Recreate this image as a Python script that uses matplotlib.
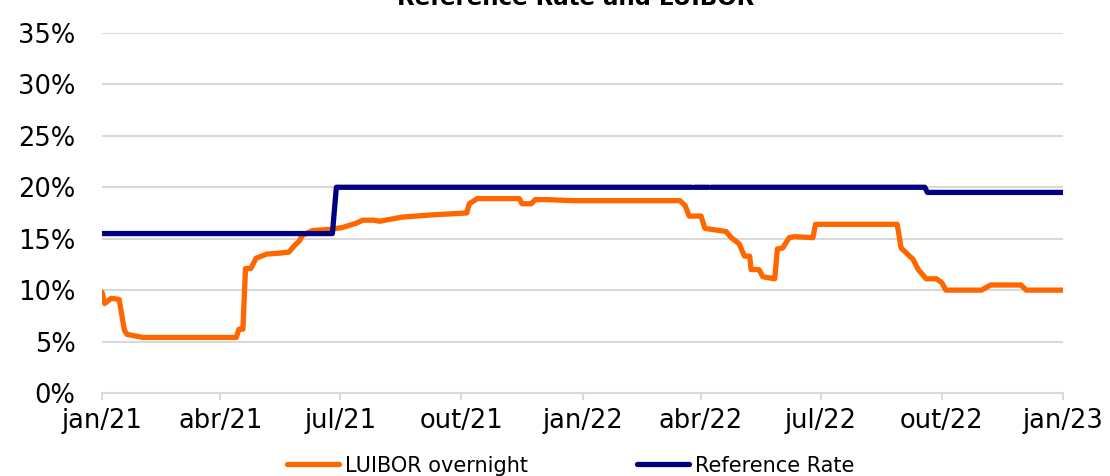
import numpy as np
import matplotlib
matplotlib.use("Agg")
import matplotlib.pyplot as plt
import matplotlib.dates as mdates
from matplotlib.ticker import FuncFormatter

# LUIBOR overnight (%)
luibor_dates = ["2021-01-01", "2021-01-03", "2021-01-08", "2021-01-14", "2021-01-18",
                "2021-01-20", "2021-02-01", "2021-04-13", "2021-04-15", "2021-04-18",
                "2021-04-20", "2021-04-24", "2021-04-28", "2021-05-06", "2021-05-16",
                "2021-05-23", "2021-05-27", "2021-05-31", "2021-06-02", "2021-06-10",
                "2021-06-23", "2021-07-03", "2021-07-13", "2021-07-18", "2021-07-26",
                "2021-07-31", "2021-08-17", "2021-09-07", "2021-10-05", "2021-10-07",
                "2021-10-13", "2021-11-14", "2021-11-16", "2021-11-23", "2021-11-26",
                "2021-12-05", "2021-12-24", "2022-03-16", "2022-03-20", "2022-03-23",
                "2022-04-01", "2022-04-04", "2022-04-20", "2022-04-24", "2022-04-30",
                "2022-05-04", "2022-05-08", "2022-05-09", "2022-05-15", "2022-05-18",
                "2022-05-27", "2022-05-29", "2022-06-02", "2022-06-07", "2022-06-11",
                "2022-06-25", "2022-06-27", "2022-08-28", "2022-08-31", "2022-09-04",
                "2022-09-09", "2022-09-13", "2022-09-19", "2022-09-27", "2022-10-01",
                "2022-10-04", "2022-10-31", "2022-11-07", "2022-11-30", "2022-12-04",
                "2023-01-01"]
luibor = [9.8, 8.7, 9.2, 9.1, 6.1,
          5.7, 5.4, 5.4, 6.2, 6.2,
          12.1, 12.1, 13.1, 13.5, 13.6,
          13.7, 14.3, 14.8, 15.3, 15.8,
          15.9, 16.1, 16.5, 16.8, 16.8,
          16.7, 17.1, 17.3, 17.5, 18.4,
          18.9, 18.9, 18.4, 18.4, 18.8,
          18.8, 18.7, 18.7, 18.2, 17.2,
          17.2, 16.0, 15.7, 15.1, 14.5,
          13.3, 13.3, 12.0, 12.0, 11.3,
          11.1, 14.0, 14.1, 15.1, 15.2,
          15.1, 16.4, 16.4, 14.1, 13.6,
          13.0, 12.0, 11.1, 11.1, 10.7,
          10.0, 10.0, 10.5, 10.5, 10.0,
          10.0]

# Reference rate (%), NaN where the series has short breaks
ref_dates = ["2021-01-01", "2021-06-25", "2021-06-28", "2022-03-25", "2022-03-26",
             "2022-03-27", "2022-04-07", "2022-04-08", "2022-04-09", "2022-09-18",
             "2022-09-20", "2023-01-01"]
ref_rate = [15.5, 15.5, 20.0, 20.0, np.nan,
            20.0, 20.0, np.nan, 20.0, 20.0,
            19.5, 19.5]

x_ticks = ["2021-01-01", "2021-04-01", "2021-07-01", "2021-10-01", "2022-01-01",
           "2022-04-01", "2022-07-01", "2022-10-01", "2023-01-01"]
x_labels = ["jan/21", "abr/21", "jul/21", "out/21", "jan/22",
            "abr/22", "jul/22", "out/22", "jan/23"]

fig = plt.figure(figsize=(11.1, 4.76), dpi=100)
ax = fig.add_axes([0.0919, 0.1744, 0.8658, 0.7563])

grid_col = "#d9d9d9"
ax.plot(np.array(luibor_dates, dtype="datetime64[D]"), luibor, color="#ff6600",
        lw=3.8, solid_joinstyle="round", solid_capstyle="round", label="LUIBOR overnight")
ax.plot(np.array(ref_dates, dtype="datetime64[D]"), ref_rate, color="#000080",
        lw=3.8, solid_joinstyle="round", solid_capstyle="round", label="Reference Rate")

ax.set_xlim(np.datetime64("2021-01-01"), np.datetime64("2023-01-01"))
ax.set_ylim(0, 35)
ax.set_yticks(range(0, 36, 5))
ax.yaxis.set_major_formatter(FuncFormatter(lambda v, p: f"{v:.0f}%"))
ax.set_xticks(np.array(x_ticks, dtype="datetime64[D]"))
ax.set_xticklabels(x_labels)

ax.grid(axis="y", color=grid_col, lw=1.5)
ax.set_axisbelow(True)
for s in ["top", "right", "left"]:
    ax.spines[s].set_visible(False)
ax.spines["bottom"].set_color(grid_col)
ax.spines["bottom"].set_linewidth(1.5)
ax.tick_params(axis="y", length=0, pad=19, labelsize=18.5)
ax.tick_params(axis="x", length=5, width=1.5, color=grid_col, pad=6, labelsize=18.5)

fig.text(0.519, 0.9895, "Reference Rate and LUIBOR", ha="center", va="baseline",
         fontsize=16.5, fontweight="bold")

fig.legend(loc="center", bbox_to_anchor=(0.514, 0.022), ncol=2, frameon=False,
           fontsize=15, handlelength=2.5, handletextpad=0.3, columnspacing=5.2)

fig.savefig("out.png", dpi=100)
